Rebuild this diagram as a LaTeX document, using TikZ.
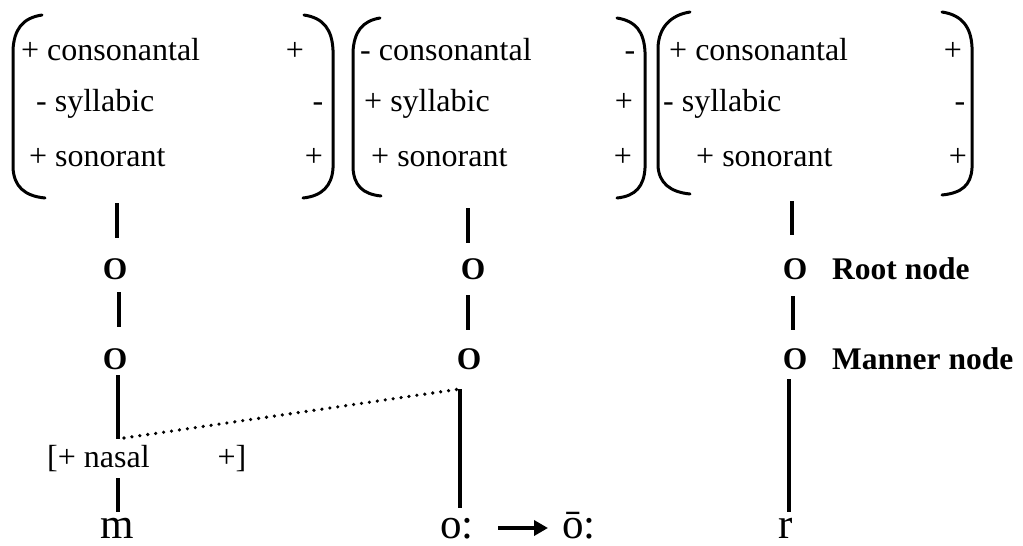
\documentclass[tikz,border=0pt]{standalone}
\usepackage{fontspec}
\setmainfont{Liberation Serif}
\usetikzlibrary{arrows.meta,calc}
\begin{document}
\begin{tikzpicture}[x=1pt,y=-1pt,
  feat/.style={anchor=base west,inner sep=0pt,font=\fontsize{32}{38}\selectfont},
  val/.style={anchor=base,inner sep=0pt,font=\fontsize{32}{38}\selectfont},
  onode/.style={anchor=base,inner sep=0pt,font=\fontsize{31.5}{38}\selectfont\bfseries},
  lbl/.style={anchor=base west,inner sep=0pt,font=\fontsize{31.5}{38}\selectfont\bfseries},
  seg/.style={anchor=base,inner sep=0pt,font=\fontsize{43}{50}\selectfont},
  stem/.style={line width=3.2pt},
  paren/.style={line width=3pt,line cap=round},
  link/.style={line width=3.6pt,dash pattern=on 0pt off 8pt,line cap=round}]
\useasboundingbox (0,0) rectangle (1023,546);
% ---------- brackets ----------
\draw[paren] (42,15) .. controls (22,18) and (14,30) .. (13,50) -- (13,168) .. controls (14,186) and (24,196) .. (45,198);
\draw[paren] (304,15) .. controls (324,18) and (332,30) .. (333,50) -- (333,168) .. controls (332,186) and (322,196) .. (303,198);
\draw[paren] (380,18) .. controls (362,21) and (354,32) .. (353,52) -- (353,168) .. controls (354,185) and (362,194) .. (381,196);
\draw[paren] (617,18) .. controls (636,21) and (644,32) .. (645,52) -- (645,168) .. controls (644,186) and (636,196) .. (617,198);
\draw[paren] (690,12) .. controls (671,15) and (659,27) .. (658,47) -- (658,166) .. controls (659,183) and (670,192) .. (690,194);
\draw[paren] (942,12) .. controls (962,15) and (971,27) .. (972,47) -- (972,168) .. controls (971,185) and (962,193) .. (942,195);
% ---------- bracket 1 ----------
\node[feat] (a1) at (21,60) {+ consonantal};
\node[val]  (a1v) at (295,60) {+};
\node[feat] (a2) at (36,111) {- syllabic};
\node[val]  (a2v) at (318,111) {-};
\node[feat] (a3) at (29,166) {+ sonorant};
\node[val]  (a3v) at (314,166) {+};
% ---------- bracket 2 ----------
\node[feat] (b1) at (360,60) {- consonantal};
\node[val]  (b1v) at (630,60) {-};
\node[feat] (b2) at (364,111) {+ syllabic};
\node[val]  (b2v) at (624,111) {+};
\node[feat] (b3) at (371,166) {+ sonorant};
\node[val]  (b3v) at (623,166) {+};
% ---------- bracket 3 ----------
\node[feat] (c1) at (669,60) {+ consonantal};
\node[val]  (c1v) at (953,60) {+};
\node[feat] (c2) at (663,111) {- syllabic};
\node[val]  (c2v) at (960,111) {-};
\node[feat] (c3) at (696,166) {+ sonorant};
\node[val]  (c3v) at (958,166) {+};
% ---------- column 1 ----------
\coordinate (m0a) at (117,203); \coordinate (m0b) at (117,238);
\node[onode] (mR) at (115,279) {O};
\coordinate (m1a) at (119,292); \coordinate (m1b) at (119,327);
\node[onode] (mM) at (115,369) {O};
\coordinate (m2a) at (118,375); \coordinate (m2b) at (118,439);
\node[feat] (nas) at (47,467) {[+ nasal};
\node[val] (nasv) at (232,467) {+]};
\coordinate (m3a) at (118,478); \coordinate (m3b) at (118,512);
\node[seg] (m) at (117,538) {m};
\draw[stem] (m0a) -- (m0b);
\draw[stem] (m1a) -- (m1b);
\draw[stem] (m2a) -- (m2b);
\draw[stem] (m3a) -- (m3b);
% ---------- column 2 ----------
\coordinate (o0a) at (468,208); \coordinate (o0b) at (468,243);
\node[onode] (oR) at (473,279) {O};
\coordinate (o1a) at (468,295); \coordinate (o1b) at (468,330);
\node[onode] (oM) at (469,369) {O};
\coordinate (o2a) at (460,389); \coordinate (o2b) at (460,508);
\node[seg] (o) at (457,538) {o:};
\node[seg] (obar) at (579,538) {ō:};
\draw[stem] (o0a) -- (o0b);
\draw[stem] (o1a) -- (o1b);
\draw[stem] (o2a) -- (o2b);
\coordinate (arS) at (498,528);
\coordinate (arE) at (548,528);
\draw[line width=4pt,-{Triangle[length=14pt,width=15pt]}] (arS) -- (arE);
% ---------- column 3 ----------
\coordinate (r0a) at (792,201); \coordinate (r0b) at (792,235);
\node[onode] (rR) at (795,279) {O};
\node[lbl] (rootl) at (832,279) {Root node};
\coordinate (r1a) at (793,296); \coordinate (r1b) at (793,330);
\node[onode] (rM) at (795,369) {O};
\node[lbl] (mannl) at (832,369) {Manner node};
\coordinate (r2a) at (789,379); \coordinate (r2b) at (789,512);
\node[seg] (r) at (786,538) {r};
\draw[stem] (r0a) -- (r0b);
\draw[stem] (r1a) -- (r1b);
\draw[stem] (r2a) -- (r2b);
% ---------- spreading ----------
\coordinate (lk) at (124,438);
\draw[link] (lk) -- (o2a);
\end{tikzpicture}
\end{document}
